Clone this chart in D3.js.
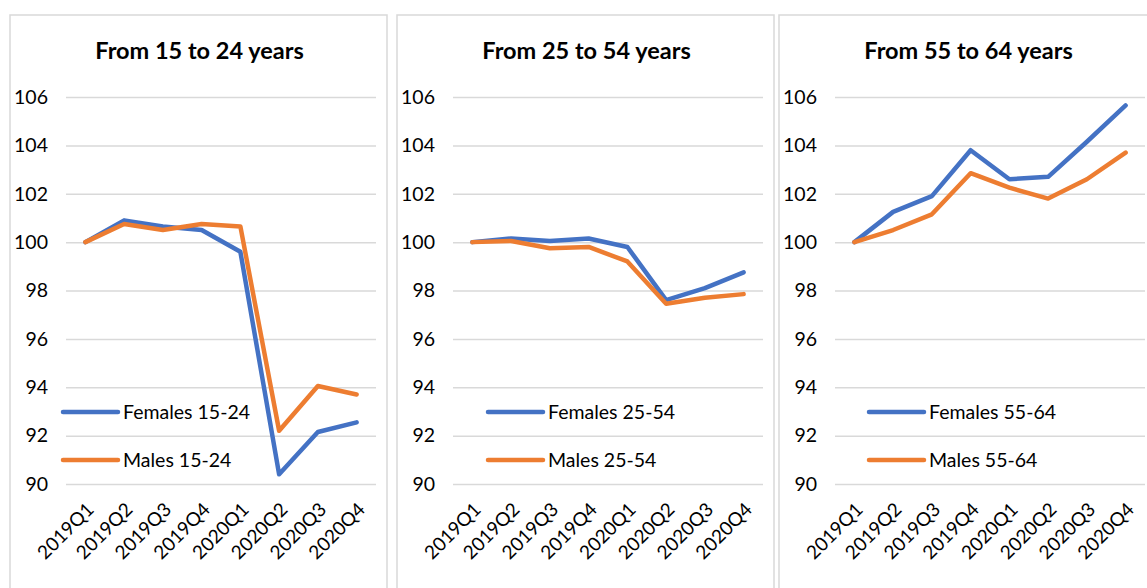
<!DOCTYPE html>
<html>
<head>
<meta charset="utf-8">
<script src="https://cdn.jsdelivr.net/npm/d3@7"></script>
<style>
  body { margin: 0; background: #fff; }
  text { font-family: Lato, "Open Sans", sans-serif; fill: #000; }
</style>
</head>
<body>
<script>
// Index 2019Q1 = 100
const quarters = ["2019Q1", "2019Q2", "2019Q3", "2019Q4", "2020Q1", "2020Q2", "2020Q3", "2020Q4"];
const panelTitles = ["From 15 to 24 years", "From 25 to 54 years", "From 55 to 64 years"];
const ageGroups = ["15-24", "25-54", "55-64"];
const yTicks = [90, 92, 94, 96, 98, 100, 102, 104, 106];

const females1524 = [100, 100.9, 100.65, 100.5, 99.6, 90.4, 92.15, 92.55];
const males1524   = [100, 100.75, 100.5, 100.75, 100.65, 92.2, 94.05, 93.7];
const females2554 = [100, 100.15, 100.05, 100.15, 99.8, 97.6, 98.1, 98.75];
const males2554   = [100, 100.05, 99.75, 99.8, 99.2, 97.45, 97.7, 97.85];
const females5564 = [100, 101.25, 101.9, 103.8, 102.6, 102.7, 104.15, 105.65];
const males5564   = [100, 100.5, 101.15, 102.85, 102.25, 101.8, 102.6, 103.7];

const femaleSeries = [females1524, females2554, females5564];
const maleSeries = [males1524, males2554, males5564];

const blue = "#4472C4";
const orange = "#ED7D31";

const width = 1147;
const height = 588;
const panelLefts = [10, 397, 779];
const legendLefts = [53, 91, 90];
const panelWidth = 377;

var svg = d3.select("body").append("svg")
    .attr("width", width)
    .attr("height", height);

var yscale = d3.scaleLinear()
    .domain([90, 106])
    .range([484, 97]);

panelLefts.forEach((left, i) => {
    var g = svg.append("g")
        .attr("transform", `translate(${left}, 0)`);

    // panel frame
    g.append("rect")
        .attr("x", 0).attr("y", 15)
        .attr("width", panelWidth).attr("height", 600)
        .attr("fill", "none")
        .attr("stroke", "#d9d9d9")
        .attr("stroke-width", 1.5);

    var xscale = d3.scaleBand()
        .domain(quarters)
        .range([56, 366]);

    // gridlines + y labels
    var yaxis = g.append("g")
        .attr("transform", "translate(56, 0)")
        .call(d3.axisLeft(yscale).tickValues(yTicks).tickSize(-310).tickPadding(18));
    yaxis.select(".domain").remove();
    yaxis.selectAll(".tick line").attr("stroke", "#d9d9d9").attr("stroke-width", 1.5);
    yaxis.selectAll(".tick text")
        .style("font-size", "19.5px")
        .style("font-family", "Lato, 'Open Sans', sans-serif")
        .attr("fill", "#000");

    // x labels
    g.selectAll(".xlab")
        .data(quarters)
        .enter()
        .append("text")
        .attr("class", "xlab")
        .attr("transform", d => `translate(${xscale(d) + xscale.bandwidth() / 2 + 5}, 506) rotate(-45)`)
        .attr("text-anchor", "end")
        .attr("dy", "0.35em")
        .style("font-size", "19px")
        .text(d => d);

    // title
    g.append("text")
        .attr("x", panelWidth / 2 + 1)
        .attr("y", 59)
        .attr("text-anchor", "middle")
        .style("font-size", "23.5px")
        .style("font-weight", "bold")
        .text(panelTitles[i]);

    var line = d3.line()
        .x((d, j) => xscale(quarters[j]) + xscale.bandwidth() / 2)
        .y(d => yscale(d));

    [[femaleSeries[i], blue], [maleSeries[i], orange]].forEach(s => {
        g.append("path")
            .datum(s[0])
            .attr("d", line)
            .attr("fill", "none")
            .attr("stroke", s[1])
            .attr("stroke-width", 4.5)
            .attr("stroke-linejoin", "round")
            .attr("stroke-linecap", "round");
    });

    // legend
    var legend = [["Females " + ageGroups[i], blue, 412], ["Males " + ageGroups[i], orange, 460]];
    legend.forEach(l => {
        g.append("line")
            .attr("x1", legendLefts[i]).attr("x2", legendLefts[i] + 55)
            .attr("y1", l[2]).attr("y2", l[2])
            .attr("stroke", l[1])
            .attr("stroke-width", 4.5)
            .attr("stroke-linecap", "round");
        g.append("text")
            .attr("x", legendLefts[i] + 60)
            .attr("y", l[2])
            .attr("dy", "0.35em")
            .style("font-size", "19.5px")
            .text(l[0]);
    });
});
</script>
</body>
</html>
